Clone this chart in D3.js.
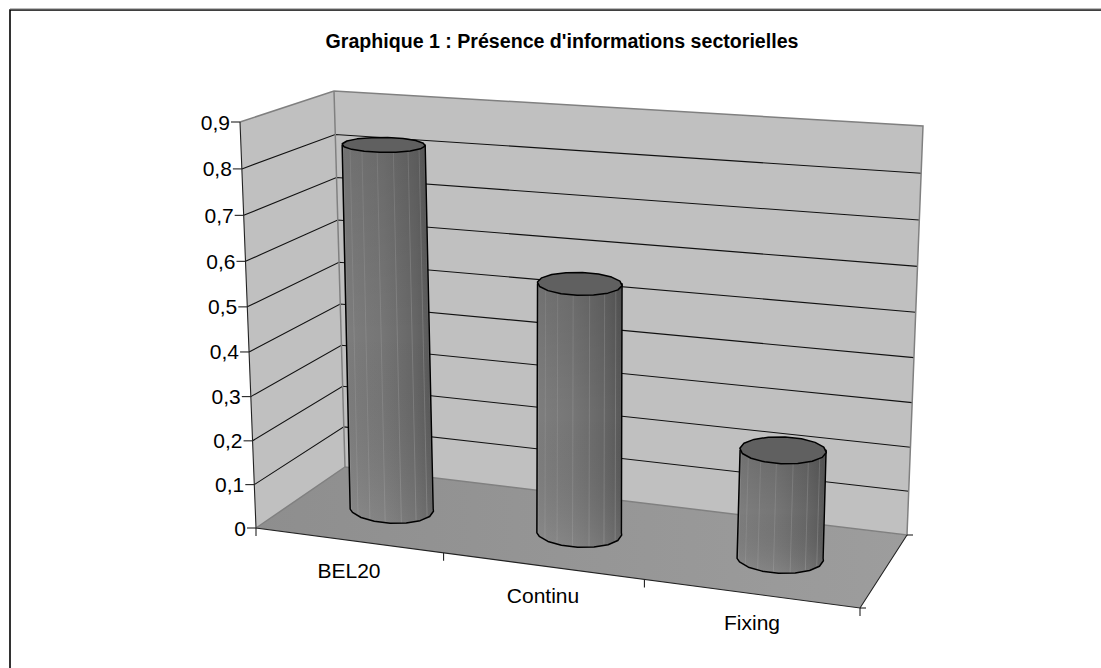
<!DOCTYPE html>
<html><head><meta charset="utf-8">
<script src="https://cdnjs.cloudflare.com/ajax/libs/d3/7.8.5/d3.min.js"></script>
<style>html,body{margin:0;padding:0;background:#fff}svg{display:block}text{font-family:"Liberation Sans",Arial,sans-serif;fill:#000}</style>
</head><body><svg id="c" width="1101" height="668"></svg>
<script>
const chartTitle = "Graphique 1 : Présence d'informations sectorielles";
const categories = ["BEL20", "Continu", "Fixing"];
const values = [0.83, 0.56, 0.24];
const tickValues = [0, 0.1, 0.2, 0.3, 0.4, 0.5, 0.6, 0.7, 0.8, 0.9];
const fmt = v => String(v).replace(".", ",");

const svg = d3.select("#c");
const defs = svg.append("defs");

// Projection frame (corners of the 3D box on screen)
const FL0 = [256, 528], FL9 = [240, 122], BL0 = [345, 467], BL9 = [334, 91],
      BR0 = [907, 535], BR9 = [923, 126], FR0 = [860, 608], FR9 = [878, 168];
// perspective foreshortening
const persp = a => t => t / (t + (1 - t) * a);
const hScale = d3.scaleLinear().domain([0, 0.9]).range([0, 1]);
const hP = persp(1.045), uP = persp(1.11);
const uScale = d3.scaleLinear().domain([0, categories.length]).range([0, 1]);
const mix = (a, b, t) => d3.interpolateArray(a, b)(t);
const edge = (a, b) => h => mix(a, b, hP(hScale(h)));
const edgeFL = edge(FL0, FL9), edgeBL = edge(BL0, BL9), edgeBR = edge(BR0, BR9), edgeFR = edge(FR0, FR9);
// point on the box for a category position u, height h, depth d (0 front, 1 back)
function project(u, h, d) {
  const s = uP(uScale(u));
  return mix(mix(edgeFL(h), edgeFR(h), s), mix(edgeBL(h), edgeBR(h), s), d);
}
const line = d3.line();

const wallG = svg.append("g");
// border
svg.append("path").attr("d", "M10,668V10H1101").attr("fill", "none").attr("stroke", "#000").attr("stroke-width", 1.6);
svg.append("path").attr("d", "M10,9H1101").attr("fill", "none").attr("stroke", "#777").attr("stroke-width", 1);

const floorGrad = defs.append("linearGradient").attr("id", "floor").attr("x1", 0).attr("x2", 1).attr("y1", 0).attr("y2", 0);
[[0, "#8e8e8e"], [1, "#9d9d9d"]].forEach(s => floorGrad.append("stop").attr("offset", s[0]).attr("stop-color", s[1]));

// walls
wallG.append("path").attr("d", line([FL0, FL9, BL9, BL0])+"Z").attr("fill", "#c0c0c0");
wallG.append("path").attr("d", line([BL0, BL9, BR9, BR0])+"Z").attr("fill", "#c0c0c0");
wallG.append("path").attr("d", line([FL0, BL0, BR0, FR0])+"Z").attr("fill", "url(#floor)");
// gridlines
tickValues.filter(t => t > 0 && t < 0.9).forEach(t => {
  wallG.append("path").attr("d", line([edgeFL(t), edgeBL(t), edgeBR(t)]))
    .attr("fill", "none").attr("stroke", "#111").attr("stroke-width", 1.1);
});
// gray frame
wallG.append("path").attr("d", line([FL9, BL9, BR9, BR0, BL0, FL0])).attr("fill", "none").attr("stroke", "#808080").attr("stroke-width", 1.5);
wallG.append("path").attr("d", line([BL9, BL0])).attr("fill", "none").attr("stroke", "#808080").attr("stroke-width", 1.5);
// axes
const ax = svg.append("g").attr("fill", "none").attr("stroke", "#222").attr("stroke-width", 1.1);
ax.append("path").attr("d", line([FL9, FL0, FR0, BR0]));
tickValues.forEach(t => {
  const p = edgeFL(t);
  ax.append("path").attr("d", line([[p[0] - 9, p[1]], p]));
  svg.append("text").attr("x", p[0] - 10).attr("y", p[1] + 7.5).attr("text-anchor", "end").attr("font-size", 21).text(fmt(t));
});
d3.range(categories.length + 1).forEach(i => {
  const p = project(i, 0, 0);
  ax.append("path").attr("d", line([p, [p[0], p[1] + 8]]));
});
ax.append("path").attr("d", line([BR0, [BR0[0] + 6, BR0[1]]]));
ax.append("path").attr("d", line([FR0, [FR0[0] + 6, FR0[1]]]));

// category labels
const labelPos = [[349, 578], [543, 603], [752, 630]];
categories.forEach((c, i) => {
  svg.append("text").attr("x", labelPos[i][0]).attr("y", labelPos[i][1]).attr("text-anchor", "middle").attr("font-size", 21).text(c);
});

// title
svg.append("text").attr("x", 562).attr("y", 47.5).attr("text-anchor", "middle").attr("font-size", 19.6).attr("font-weight", "bold").text(chartTitle);

// side shading
const sideGrad = defs.append("linearGradient").attr("id", "side").attr("x1", 0).attr("x2", 1).attr("y1", 0).attr("y2", 0);
[[0, "#7e7e7e"], [0.45, "#757575"], [0.8, "#666666"], [1, "#585858"]].forEach(s => sideGrad.append("stop").attr("offset", s[0]).attr("stop-color", s[1]));
const fade = defs.append("linearGradient").attr("id", "fade").attr("x1", 0).attr("x2", 0).attr("y1", 0).attr("y2", 1);
[[0, "#000", 0.1], [0.5, "#000", 0], [1, "#fff", 0.1]].forEach(s => fade.append("stop").attr("offset", s[0]).attr("stop-color", s[1]).attr("stop-opacity", s[2]));

// Cylinders
const rxScale = d3.scaleLinear().domain([0, 2]).range([41.5, 43]);
const ry = d3.scaleLinear().domain([145, 284, 449, 560]).range([7.5, 11.5, 13.5, 15]).clamp(true);
const facetAngles = d3.range(0, 360, 22.5).map(d => (d + 9) * Math.PI / 180);
const barCentreU = 0.512;

function ring(c, rx, r) {
  return facetAngles.map(a => {
    const dy = r * Math.sin(a);
    return [c[0] + rx * Math.cos(a) + 0.35 * dy, c[1] + dy];
  });
}
function lower(pts) { return pts.filter((p, i) => Math.sin(facetAngles[i]) >= 0).sort((a, b) => b[0] - a[0]); }

const bars = svg.append("g");
values.forEach((v, i) => {
  const g = bars.append("g");
  const rx = rxScale(i);
  const cB = project(i + barCentreU, 0, 0.5), cT = project(i + barCentreU, v, 0.5);
  const rT = ry(cT[1]), rB = ry(cB[1]);
  const topPts = ring(cT, rx, rT);
  const botPts = ring(cB, rx, rB);
  const lowB = lower(botPts);
  const body = [[cT[0] - rx, cT[1]], [cT[0] + rx, cT[1]], [cB[0] + rx, cB[1]], ...lowB, [cB[0] - rx, cB[1]]];
  g.append("path").attr("d", line(body) + "Z").attr("fill", "url(#side)");
  // facet seams
  facetAngles.filter(a => Math.sin(a) > 0).forEach(a => {
    g.append("path").attr("d", line([[cT[0] + rx * Math.cos(a), cT[1] + rT * Math.sin(a)], [cB[0] + rx * Math.cos(a), cB[1] + rB * Math.sin(a)]]))
      .attr("stroke", "#9a9a9a").attr("stroke-width", 1).attr("stroke-opacity", 0.45).attr("fill", "none");
  });
  g.append("path").attr("d", line(body) + "Z").attr("fill", "url(#fade)");
  g.append("path").attr("d", line(body) + "Z").attr("fill", "none").attr("stroke", "#000").attr("stroke-width", 1.5).attr("stroke-linejoin", "round");
  g.append("path").attr("d", line(topPts) + "Z").attr("fill", "#606060").attr("stroke", "#000").attr("stroke-width", 1.5).attr("stroke-linejoin", "round");
});
</script></body></html>
